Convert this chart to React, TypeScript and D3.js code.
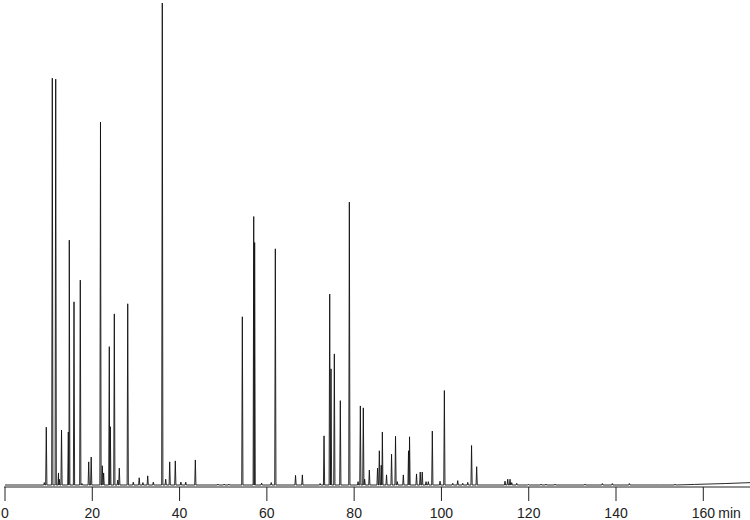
import React from "react";
import * as d3 from "d3";

// retention time (min) and relative intensity (tallest peak = 100)
const peakTimes = [
  9.01, 9.46, 10.84, 11.62, 12.26, 12.44, 12.95, 14.51, 14.73, 15.81, 17.25,
  17.64, 19.18, 19.75, 21.88, 22.3, 22.6, 23.9, 24.13, 25.05, 25.83, 26.19,
  28.12, 29.4, 30.75, 31.6, 32.7, 33.98, 36.04, 36.82, 37.74, 39.02, 40.3,
  41.41, 43.61, 48.8, 50.2, 51.3, 54.38, 56.99, 57.2, 58.8, 61.0, 61.94,
  66.57, 68.13, 72.2, 73.1, 74.4, 74.7, 75.46, 76.83, 78.9, 80.89, 81.42,
  82.1, 82.4, 83.48, 85.36, 85.77, 86.21, 86.46, 87.42, 88.57, 89.48, 89.89,
  91.27, 92.46, 92.69, 94.29, 95.14, 95.6, 96.47, 97.0, 97.91, 99.68, 100.67,
  102.59, 103.73, 104.88, 106.03, 106.9, 108.07, 114.57, 115.19, 115.72,
  116.11, 117.25, 119.91, 122.82, 123.97, 126.03, 132.9, 136.87, 139.16,
  143.06, 153.53,
];
const peakHeights = [
  0.5, 12.0, 84.4, 84.2, 2.5, 1.2, 11.4, 11.0, 50.8, 38.0, 42.5,
  0.3, 4.8, 5.8, 75.3, 4.0, 2.5, 28.7, 12.1, 35.5, 1.0, 3.5,
  37.6, 0.6, 1.5, 0.5, 1.9, 0.6, 100, 1.2, 4.8, 5.0, 0.6,
  0.6, 5.2, 0.2, 0.2, 0.2, 34.9, 55.7, 50.3, 0.4, 0.5, 49.0,
  2.0, 2.1, 0.3, 10.2, 39.6, 24.1, 27.2, 17.5, 58.7, 0.7, 16.4,
  16.0, 1.2, 3.1, 3.5, 7.1, 4.1, 11.0, 2.1, 6.4, 10.1, 0.7,
  2.1, 7.1, 10.0, 2.3, 2.7, 2.7, 0.7, 0.7, 11.2, 0.8, 19.6,
  0.35, 0.9, 0.35, 0.55, 8.2, 3.8, 0.8, 1.2, 1.2,
  0.5, 0.35, 0.15, 0.2, 0.2, 0.2, 0.2, 0.3, 0.3,
  0.3, 0.2,
];

// slow baseline drift towards the end of the run
const driftTimes = [0, 150, 158, 165, 171];
const driftLevels = [0, 0, 0.12, 0.3, 0.5];

const tickValues = [0, 20, 40, 60, 80, 100, 120, 140, 160];
const unitLabel = "min";

const width = 750;
const height = 520;

type Pt = { t: number; v: number };

function Chromatogram() {
  const x = d3.scaleLinear().domain([0, 170.7]).range([5, 750]);
  const y = d3.scaleLinear().domain([0, 100]).range([485, 3]);
  const axisY = 487;
  const halfBase = 0.14;

  const pts: Pt[] = driftTimes.map((t, i) => ({ t, v: driftLevels[i] }));
  peakTimes.forEach((t, i) => {
    pts.push({ t: t - halfBase, v: 0 }, { t, v: peakHeights[i] }, { t: t + halfBase, v: 0 });
  });
  pts.sort((a, b) => a.t - b.t);

  const line = d3
    .line<Pt>()
    .x((d) => x(d.t))
    .y((d) => y(d.v));

  const font = "'Liberation Sans', Arial, Helvetica, sans-serif";

  return (
    <svg width={width} height={height} style={{ display: "block" }}>
      <rect width={width} height={height} fill="#fff" />
      <line x1={4} x2={width} y1={axisY} y2={axisY} stroke="#222" strokeWidth={1} />
      {tickValues.map((v, i) => (
        <g key={v} transform={`translate(${x(v)},0)`}>
          <line y1={axisY} y2={axisY + 14} stroke="#222" strokeWidth={1} />
          <text
            y={518}
            textAnchor="middle"
            fontFamily={font}
            fontSize={14}
            fill="#222"
          >
            {v}
          </text>
          {i === tickValues.length - 1 && (
            <text x={15} y={518} fontFamily={font} fontSize={14} fill="#222">
              {unitLabel}
            </text>
          )}
        </g>
      ))}
      <path d={line(pts) ?? ""} fill="none" stroke="#111" strokeWidth={0.9} />
    </svg>
  );
}

export default function App() {
  return (
    <div style={{ position: "fixed", left: 0, top: 0 }}>
      <Chromatogram />
    </div>
  );
}
